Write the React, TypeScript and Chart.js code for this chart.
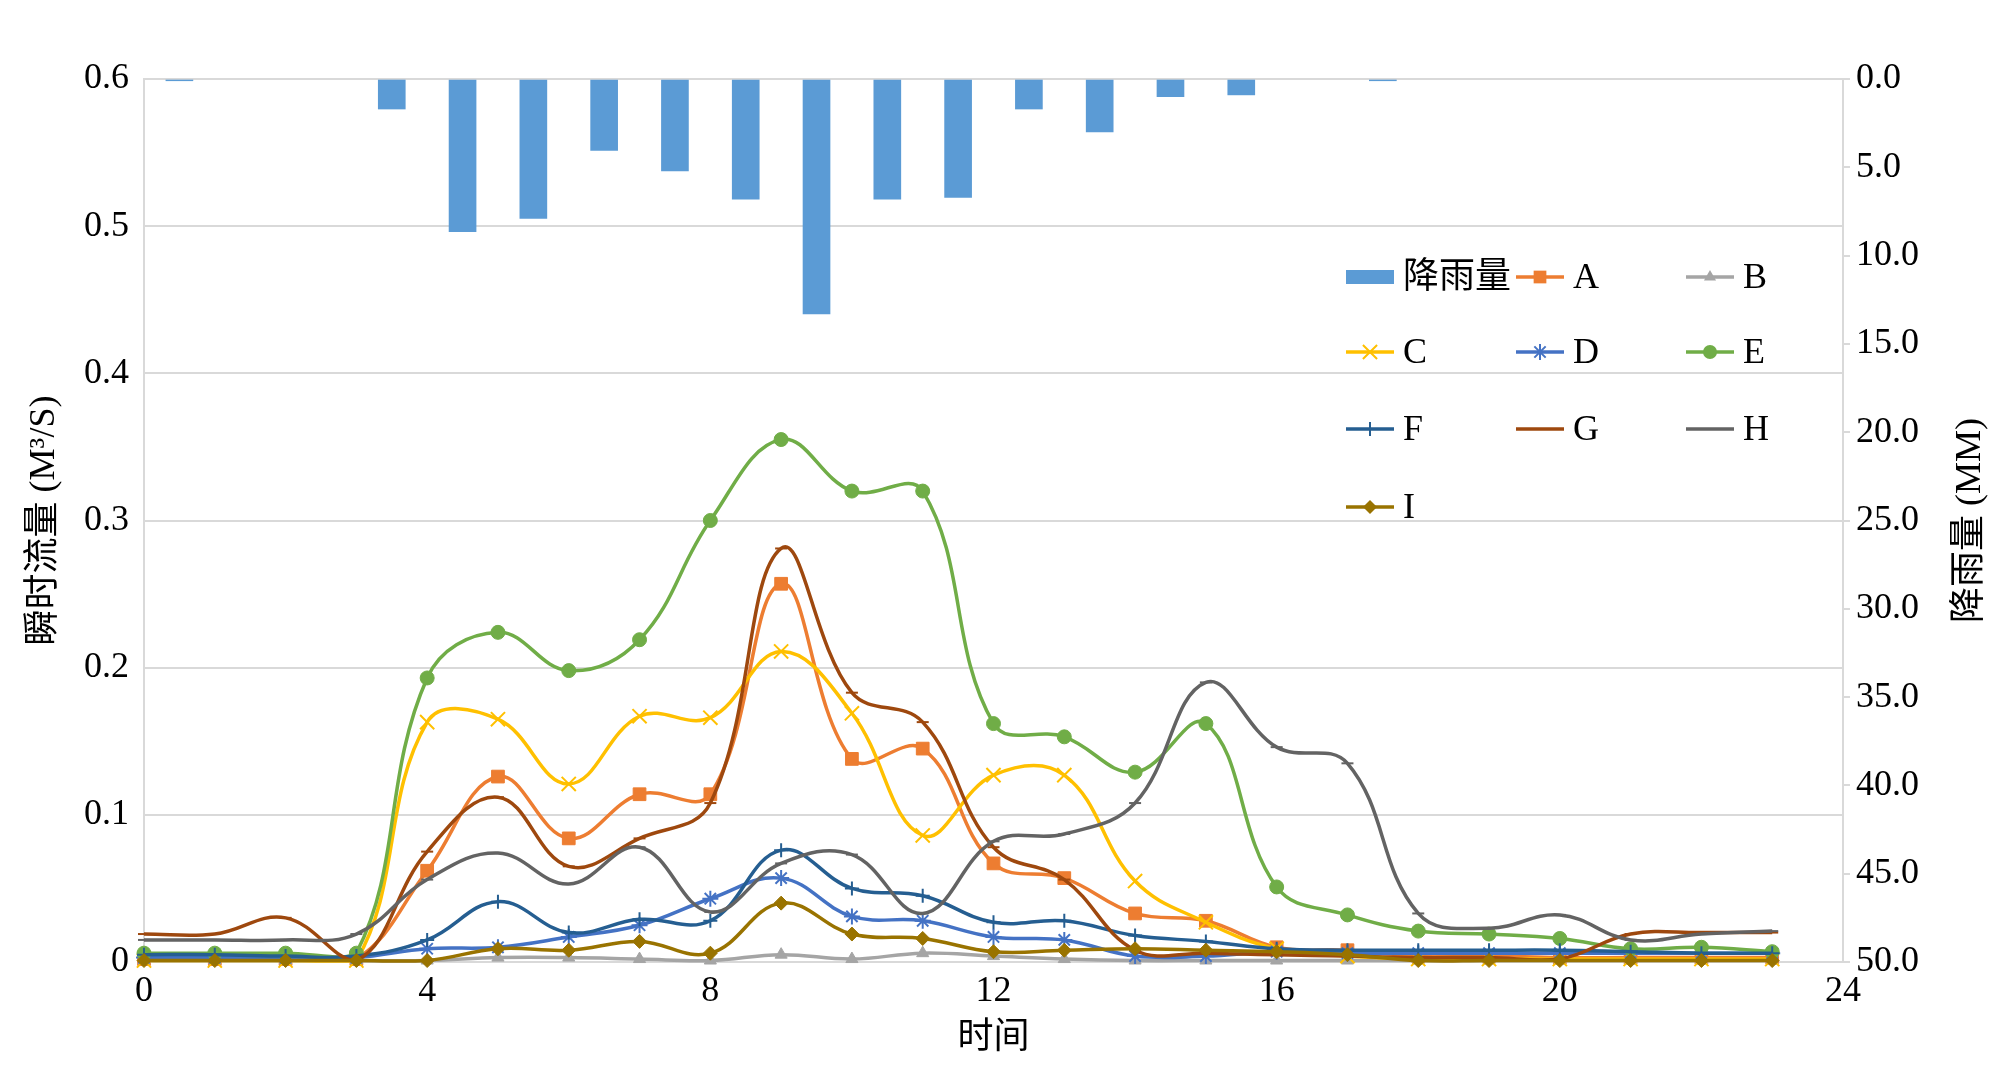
import React, { useEffect, useRef } from "react";
import { Chart, registerables } from "chart.js";

Chart.register(...registerables);

// ---------------- data ----------------
const hours = [0, 1, 2, 3, 4, 5, 6, 7, 8, 9, 10, 11, 12, 13, 14, 15, 16, 17, 18, 19, 20, 21, 22, 23];

// rainfall (mm) in the hour starting at hours[i]; drawn at the middle of that hour
const rainfall = [0.1, 0, 0, 1.7, 8.65, 7.9, 4.05, 5.2, 6.8, 13.3, 6.8, 6.7, 1.7, 3.0, 1.0, 0.9, 0, 0.1, 0, 0, 0, 0, 0, 0];

const seriesA = [0.002, 0.002, 0.002, 0.002, 0.062, 0.126, 0.084, 0.114, 0.114, 0.257, 0.138, 0.145, 0.067, 0.057, 0.033, 0.028, 0.010, 0.008, 0.004, 0.004, 0.003, 0.003, 0.003, 0.003];
const seriesB = [0.001, 0.001, 0.001, 0.001, 0.001, 0.003, 0.003, 0.002, 0.001, 0.005, 0.002, 0.006, 0.004, 0.002, 0.001, 0.001, 0.001, 0.001, 0.001, 0.001, 0.001, 0.001, 0.001, 0.001];
const seriesC = [0.001, 0.001, 0.001, 0.001, 0.163, 0.165, 0.121, 0.167, 0.166, 0.211, 0.169, 0.086, 0.127, 0.127, 0.055, 0.027, 0.009, 0.004, 0.002, 0.002, 0.002, 0.002, 0.002, 0.002];
const seriesD = [0.003, 0.003, 0.003, 0.003, 0.009, 0.010, 0.017, 0.025, 0.043, 0.057, 0.031, 0.028, 0.017, 0.015, 0.004, 0.004, 0.007, 0.006, 0.006, 0.006, 0.006, 0.006, 0.006, 0.006];
const seriesE = [0.006, 0.006, 0.006, 0.006, 0.193, 0.224, 0.198, 0.219, 0.300, 0.355, 0.320, 0.320, 0.162, 0.153, 0.129, 0.162, 0.051, 0.032, 0.021, 0.019, 0.016, 0.009, 0.010, 0.007];
const seriesF = [0.005, 0.005, 0.004, 0.004, 0.015, 0.041, 0.020, 0.029, 0.028, 0.076, 0.050, 0.045, 0.027, 0.028, 0.018, 0.014, 0.009, 0.008, 0.008, 0.008, 0.008, 0.007, 0.006, 0.006];
const seriesG = [0.019, 0.019, 0.030, 0.001, 0.075, 0.112, 0.065, 0.084, 0.108, 0.281, 0.183, 0.163, 0.078, 0.056, 0.008, 0.006, 0.005, 0.004, 0.003, 0.003, 0.002, 0.019, 0.020, 0.020];
const seriesH = [0.015, 0.015, 0.015, 0.019, 0.056, 0.074, 0.053, 0.078, 0.034, 0.067, 0.073, 0.033, 0.082, 0.087, 0.108, 0.190, 0.146, 0.135, 0.033, 0.023, 0.032, 0.015, 0.019, 0.021];
const seriesI = [0.001, 0.001, 0.001, 0.001, 0.001, 0.009, 0.008, 0.014, 0.006, 0.040, 0.019, 0.016, 0.007, 0.008, 0.009, 0.008, 0.007, 0.005, 0.001, 0.001, 0.001, 0.001, 0.001, 0.001];

const seriesNames = ["A", "B", "C", "D", "E", "F", "G", "H", "I"];
const seriesValues = [seriesA, seriesB, seriesC, seriesD, seriesE, seriesF, seriesG, seriesH, seriesI];

const xTicks = [0, 4, 8, 12, 16, 20, 24];
const leftTicks = [0, 0.1, 0.2, 0.3, 0.4, 0.5, 0.6];
const rightTicks = [0, 5, 10, 15, 20, 25, 30, 35, 40, 45, 50];

const rainLabel = "降雨量";
const xTitle = "时间";
const leftTitle = "瞬时流量 (M³/S)";
const rightTitle = "降雨量 (MM)";

// ---------------- styles ----------------
const FONT = "'Liberation Serif', 'Times New Roman', 'Noto Sans CJK SC', serif";
const FONT_SIZE = 36;
const GRID = "#d9d9d9";
const RAIN_COLOR = "#5B9BD5";
const seriesColors = ["#ED7D31", "#A5A5A5", "#FFC000", "#4472C4", "#70AD47", "#255E91", "#9E480E", "#636363", "#997300"];
const seriesStyles = ["rect", "triangle", "crossRot", "star", "circle", "cross", "line", "line", "rectRot"];
const seriesRadius = [9, 7, 10, 8, 7, 7, 6, 6, 7];

function drawMarker(ctx: CanvasRenderingContext2D, style: string, x: number, y: number, r: number, color: string) {
  ctx.save();
  ctx.fillStyle = color;
  ctx.strokeStyle = color;
  ctx.lineWidth = 2;
  ctx.beginPath();
  switch (style) {
    case "rect": {
      const s = Math.SQRT1_2 * r;
      ctx.rect(x - s, y - s, 2 * s, 2 * s);
      ctx.fill();
      break;
    }
    case "triangle": {
      ctx.moveTo(x, y - r);
      ctx.lineTo(x + r * 0.866, y + r * 0.5);
      ctx.lineTo(x - r * 0.866, y + r * 0.5);
      ctx.closePath();
      ctx.fill();
      break;
    }
    case "circle": {
      ctx.arc(x, y, r, 0, Math.PI * 2);
      ctx.fill();
      break;
    }
    case "rectRot": {
      ctx.moveTo(x - r, y);
      ctx.lineTo(x, y - r);
      ctx.lineTo(x + r, y);
      ctx.lineTo(x, y + r);
      ctx.closePath();
      ctx.fill();
      break;
    }
    case "crossRot": {
      const d = r * Math.SQRT1_2;
      ctx.moveTo(x - d, y - d);
      ctx.lineTo(x + d, y + d);
      ctx.moveTo(x - d, y + d);
      ctx.lineTo(x + d, y - d);
      ctx.stroke();
      break;
    }
    case "cross": {
      ctx.moveTo(x, y - r);
      ctx.lineTo(x, y + r);
      ctx.moveTo(x - r, y);
      ctx.lineTo(x + r, y);
      ctx.stroke();
      break;
    }
    case "star": {
      const d = r * Math.SQRT1_2;
      ctx.moveTo(x, y - r);
      ctx.lineTo(x, y + r);
      ctx.moveTo(x - r, y);
      ctx.lineTo(x + r, y);
      ctx.moveTo(x - d, y - d);
      ctx.lineTo(x + d, y + d);
      ctx.moveTo(x - d, y + d);
      ctx.lineTo(x + d, y - d);
      ctx.stroke();
      break;
    }
    default:
      break;
  }
  ctx.restore();
}

const legendPlugin = {
  id: "customLegend",
  afterDraw(chart: any) {
    const ctx: CanvasRenderingContext2D = chart.ctx;
    const entries = [
      { label: rainLabel, kind: "bar", color: RAIN_COLOR, style: "", r: 0 },
      ...seriesNames.map((n, i) => ({ label: n, kind: "line", color: seriesColors[i], style: seriesStyles[i], r: seriesRadius[i] })),
    ];
    const colX = [1346, 1516, 1686];
    const rowY = [277, 352, 429, 507];
    const iconW = 48;
    ctx.save();
    ctx.font = `${FONT_SIZE}px ${FONT}`;
    ctx.textBaseline = "middle";
    ctx.textAlign = "left";
    entries.forEach((e, k) => {
      const x = colX[k % 3];
      const y = rowY[Math.floor(k / 3)];
      if (e.kind === "bar") {
        ctx.fillStyle = e.color;
        ctx.fillRect(x, y - 7, iconW, 14);
      } else {
        ctx.strokeStyle = e.color;
        ctx.lineWidth = 3.5;
        ctx.beginPath();
        ctx.moveTo(x, y);
        ctx.lineTo(x + iconW, y);
        ctx.stroke();
        drawMarker(ctx, e.style, x + iconW / 2, y, e.r, e.color);
      }
      ctx.fillStyle = "#000";
      ctx.fillText(e.label, x + 57, y + 2);
    });
    // right axis title, rotated like the left one
    const ca = chart.chartArea;
    ctx.translate(ca.right + 128, (ca.top + ca.bottom) / 2);
    ctx.rotate(-Math.PI / 2);
    ctx.textAlign = "center";
    ctx.fillText(rightTitle, 0, 0);
    ctx.restore();
  },
};

export default function App() {
  const ref = useRef<HTMLCanvasElement | null>(null);

  useEffect(() => {
    if (!ref.current) return;
    const lineSets = seriesNames.map((name, i) => ({
      type: "line" as const,
      label: name,
      data: hours.map((h, j) => ({ x: h, y: seriesValues[i][j] })),
      xAxisID: "x",
      yAxisID: "y",
      borderColor: seriesColors[i],
      backgroundColor: seriesColors[i],
      borderWidth: 3.5,
      tension: 0.4,
      pointStyle: seriesStyles[i],
      pointRadius: seriesRadius[i],
      pointBackgroundColor: seriesColors[i],
      pointBorderColor: seriesColors[i],
      pointBorderWidth: ["crossRot", "cross", "star", "line"].includes(seriesStyles[i]) ? 2 : 1,
      clip: false,
      order: 9 - i,
    }));
    const barSet = {
      type: "bar" as const,
      label: rainLabel,
      data: hours
        .map((h, j) => ({ x: h + 0.5, y: rainfall[j] }))
        .filter((p) => p.y > 0),
      xAxisID: "x",
      yAxisID: "y1",
      backgroundColor: RAIN_COLOR,
      borderWidth: 0,
      barThickness: 27,
      order: 20,
    };

    const tickFont = { family: FONT, size: FONT_SIZE };
    const chart = new Chart(ref.current, {
      type: "line",
      data: { datasets: [barSet as any, ...lineSets] },
      plugins: [legendPlugin],
      options: {
        animation: false,
        responsive: false,
        events: [],
        layout: { padding: { top: 79, left: 0, right: 0, bottom: 0 } },
        plugins: { legend: { display: false }, tooltip: { enabled: false } },
        scales: {
          x: {
            type: "linear",
            min: 0,
            max: 24,
            offset: false,
            afterBuildTicks: (s: any) => {
              s.ticks = xTicks.map((v) => ({ value: v }));
            },
            afterFit: (s: any) => {
              s.height = 124;
            },
            grid: { drawOnChartArea: false, drawTicks: false },
            border: { display: true, color: GRID, width: 2 },
            ticks: { font: tickFont, color: "#000", padding: 8, maxRotation: 0, autoSkip: false },
            title: { display: true, text: xTitle, font: tickFont, color: "#000", padding: { top: 0, bottom: 26 } },
          },
          y: {
            type: "linear",
            position: "left",
            min: 0,
            max: 0.6,
            afterBuildTicks: (s: any) => {
              s.ticks = leftTicks.map((v) => ({ value: v }));
            },
            afterFit: (s: any) => {
              s.width = 144;
            },
            grid: { color: GRID, lineWidth: 2, drawTicks: false },
            border: { display: true, color: GRID, width: 2 },
            ticks: {
              font: tickFont,
              color: "#000",
              padding: 15,
              callback: (v: any) => String(Math.round(Number(v) * 10) / 10),
            },
            title: { display: true, text: leftTitle, font: tickFont, color: "#000", padding: { top: 23, bottom: 0 } },
          },
          y1: {
            type: "linear",
            position: "right",
            reverse: true,
            min: 0,
            max: 50,
            afterBuildTicks: (s: any) => {
              s.ticks = rightTicks.map((v) => ({ value: v }));
            },
            afterFit: (s: any) => {
              s.width = 157;
            },
            grid: { drawOnChartArea: false, drawTicks: true, tickLength: 7, color: GRID, lineWidth: 2 },
            border: { display: true, color: GRID, width: 2 },
            ticks: {
              font: tickFont,
              color: "#000",
              padding: 6,
              callback: (v: any) => Number(v).toFixed(1),
            },
          },
        },
      } as any,
    });
    return () => chart.destroy();
  }, []);

  return (
    <div style={{ position: "fixed", left: 0, top: 0, width: 2000, height: 1086, background: "#fff" }}>
      <canvas ref={ref} width={2000} height={1086} style={{ width: 2000, height: 1086, display: "block" }} />
    </div>
  );
}
